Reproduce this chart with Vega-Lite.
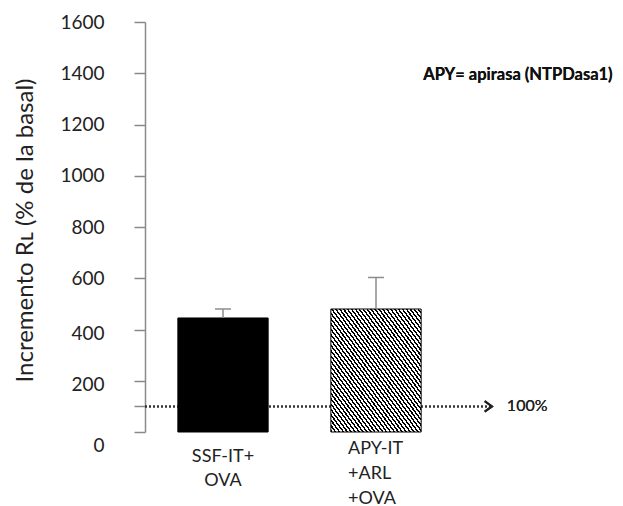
{
  "$schema": "https://vega.github.io/schema/vega-lite/v6.json",
  "autosize": "none",
  "width": 478,
  "height": 410,
  "padding": {"left": 145, "top": 22, "right": 0, "bottom": 74},
  "background": "white",
  "config": {
    "font": "Lato",
    "view": {"stroke": null},
    "axisY": {
      "grid": false,
      "domainColor": "#8a8a8a",
      "domainWidth": 1.5,
      "tickColor": "#8a8a8a",
      "tickWidth": 1.5,
      "tickSize": 11,
      "labelPadding": 30,
      "labelFont": "Lato",
      "labelFontSize": 19,
      "labelColor": "#222222",
      "titleFont": "Lato",
      "titleFontSize": 24,
      "titleFontWeight": "normal",
      "titleColor": "#222222"
    }
  },
  "data": {
    "values": [
      {"grupo": "SSF-IT+ OVA", "media": 445, "sup": 480},
      {"grupo": "APY-IT +ARL +OVA", "media": 480, "sup": 603}
    ]
  },
  "resolve": {"scale": {"x": "independent"}},
  "layer": [
    {
      "encoding": {
        "x": {"datum": 0, "type": "quantitative", "scale": {"domain": [0, 1], "nice": false, "zero": false}, "axis": null}
      },
      "layer": [
        {
          "mark": {"type": "rule", "strokeDash": [2, 2], "strokeWidth": 2, "color": "#333333"},
          "encoding": {
            "x": {"datum": 0, "type": "quantitative"},
            "x2": {"datum": 0.726},
            "y": {"datum": 100, "type": "quantitative", "scale": {"domain": [0, 1600], "nice": false}}
          }
        },
        {
          "mark": {"type": "point", "shape": "M-1.4,-1L0,0L-1.4,1", "filled": false, "stroke": "#222222", "strokeWidth": 2, "size": 110, "opacity": 1},
          "encoding": {
            "x": {"datum": 0.726, "type": "quantitative"},
            "y": {"datum": 100, "type": "quantitative"}
          }
        },
        {
          "mark": {"type": "text", "text": "100%", "align": "left", "baseline": "middle", "fontSize": 16, "fontWeight": "normal", "color": "#222222"},
          "encoding": {
            "x": {"datum": 0.757, "type": "quantitative"},
            "y": {"datum": 100, "type": "quantitative"}
          }
        },
        {
          "mark": {"type": "text", "text": "APY= apirasa (NTPDasa1)", "align": "left", "baseline": "middle", "fontSize": 16.5, "fontWeight": "bold", "color": "#111111"},
          "encoding": {
            "x": {"datum": 0.582, "type": "quantitative"},
            "y": {"datum": 1392, "type": "quantitative"}
          }
        }
      ]
    },
    {
      "encoding": {
        "x": {
          "field": "grupo",
          "type": "nominal",
          "sort": ["SSF-IT+ OVA", "APY-IT +ARL +OVA"],
          "scale": {"type": "band", "domain": ["SSF-IT+ OVA", "APY-IT +ARL +OVA"], "paddingInner": 0.41, "paddingOuter": 0.767, "align": 0.14},
          "axis": null
        }
      },
      "layer": [
        {
          "transform": [{"filter": "datum.grupo == 'SSF-IT+ OVA'"}],
          "mark": {"type": "bar", "fill": "#000000", "stroke": "#000000", "strokeWidth": 1},
          "encoding": {
            "y": {
              "field": "media",
              "type": "quantitative",
              "title": "Incremento Rʟ (% de la basal)",
              "scale": {"domain": [0, 1600], "nice": false},
              "axis": {
                "values": [0, 100, 200, 400, 600, 800, 1000, 1200, 1400, 1600],
                "format": "d",
                "labelExpr": "datum.value == 100 ? '' : datum.label",
                "labelOffset": {"condition": [{"test": "datum.value == 0", "value": 13}, {"test": "datum.value <= 400", "value": 4}], "value": 0},
                "titleX": -108,
                "titleY": 208
              }
            }
          }
        },
        {
          "transform": [{"filter": "datum.grupo == 'APY-IT +ARL +OVA'"}],
          "mark": {
            "type": "bar",
            "stroke": "#000000",
            "strokeWidth": 1,
            "fill": {
              "gradient": "linear", "x1": 0, "y1": 1, "x2": 1, "y2": 0,
              "stops": [
                {"offset":0,"color":"#000"},{"offset":0.00978,"color":"#000"},{"offset":0.00978,"color":"#fff"},{"offset":0.02174,"color":"#fff"},
                {"offset":0.02174,"color":"#000"},{"offset":0.03152,"color":"#000"},{"offset":0.03152,"color":"#fff"},{"offset":0.04348,"color":"#fff"},
                {"offset":0.04348,"color":"#000"},{"offset":0.05326,"color":"#000"},{"offset":0.05326,"color":"#fff"},{"offset":0.06522,"color":"#fff"},
                {"offset":0.06522,"color":"#000"},{"offset":0.075,"color":"#000"},{"offset":0.075,"color":"#fff"},{"offset":0.08696,"color":"#fff"},
                {"offset":0.08696,"color":"#000"},{"offset":0.09674,"color":"#000"},{"offset":0.09674,"color":"#fff"},{"offset":0.1087,"color":"#fff"},
                {"offset":0.1087,"color":"#000"},{"offset":0.11848,"color":"#000"},{"offset":0.11848,"color":"#fff"},{"offset":0.13043,"color":"#fff"},
                {"offset":0.13043,"color":"#000"},{"offset":0.14021,"color":"#000"},{"offset":0.14021,"color":"#fff"},{"offset":0.15217,"color":"#fff"},
                {"offset":0.15217,"color":"#000"},{"offset":0.16195,"color":"#000"},{"offset":0.16195,"color":"#fff"},{"offset":0.17391,"color":"#fff"},
                {"offset":0.17391,"color":"#000"},{"offset":0.18369,"color":"#000"},{"offset":0.18369,"color":"#fff"},{"offset":0.19565,"color":"#fff"},
                {"offset":0.19565,"color":"#000"},{"offset":0.20543,"color":"#000"},{"offset":0.20543,"color":"#fff"},{"offset":0.21739,"color":"#fff"},
                {"offset":0.21739,"color":"#000"},{"offset":0.22717,"color":"#000"},{"offset":0.22717,"color":"#fff"},{"offset":0.23913,"color":"#fff"},
                {"offset":0.23913,"color":"#000"},{"offset":0.24891,"color":"#000"},{"offset":0.24891,"color":"#fff"},{"offset":0.26087,"color":"#fff"},
                {"offset":0.26087,"color":"#000"},{"offset":0.27065,"color":"#000"},{"offset":0.27065,"color":"#fff"},{"offset":0.28261,"color":"#fff"},
                {"offset":0.28261,"color":"#000"},{"offset":0.29239,"color":"#000"},{"offset":0.29239,"color":"#fff"},{"offset":0.30435,"color":"#fff"},
                {"offset":0.30435,"color":"#000"},{"offset":0.31413,"color":"#000"},{"offset":0.31413,"color":"#fff"},{"offset":0.32609,"color":"#fff"},
                {"offset":0.32609,"color":"#000"},{"offset":0.33587,"color":"#000"},{"offset":0.33587,"color":"#fff"},{"offset":0.34783,"color":"#fff"},
                {"offset":0.34783,"color":"#000"},{"offset":0.35761,"color":"#000"},{"offset":0.35761,"color":"#fff"},{"offset":0.36957,"color":"#fff"},
                {"offset":0.36957,"color":"#000"},{"offset":0.37935,"color":"#000"},{"offset":0.37935,"color":"#fff"},{"offset":0.3913,"color":"#fff"},
                {"offset":0.3913,"color":"#000"},{"offset":0.40108,"color":"#000"},{"offset":0.40108,"color":"#fff"},{"offset":0.41304,"color":"#fff"},
                {"offset":0.41304,"color":"#000"},{"offset":0.42282,"color":"#000"},{"offset":0.42282,"color":"#fff"},{"offset":0.43478,"color":"#fff"},
                {"offset":0.43478,"color":"#000"},{"offset":0.44456,"color":"#000"},{"offset":0.44456,"color":"#fff"},{"offset":0.45652,"color":"#fff"},
                {"offset":0.45652,"color":"#000"},{"offset":0.4663,"color":"#000"},{"offset":0.4663,"color":"#fff"},{"offset":0.47826,"color":"#fff"},
                {"offset":0.47826,"color":"#000"},{"offset":0.48804,"color":"#000"},{"offset":0.48804,"color":"#fff"},{"offset":0.5,"color":"#fff"},
                {"offset":0.5,"color":"#000"},{"offset":0.50978,"color":"#000"},{"offset":0.50978,"color":"#fff"},{"offset":0.52174,"color":"#fff"},
                {"offset":0.52174,"color":"#000"},{"offset":0.53152,"color":"#000"},{"offset":0.53152,"color":"#fff"},{"offset":0.54348,"color":"#fff"},
                {"offset":0.54348,"color":"#000"},{"offset":0.55326,"color":"#000"},{"offset":0.55326,"color":"#fff"},{"offset":0.56522,"color":"#fff"},
                {"offset":0.56522,"color":"#000"},{"offset":0.575,"color":"#000"},{"offset":0.575,"color":"#fff"},{"offset":0.58696,"color":"#fff"},
                {"offset":0.58696,"color":"#000"},{"offset":0.59674,"color":"#000"},{"offset":0.59674,"color":"#fff"},{"offset":0.6087,"color":"#fff"},
                {"offset":0.6087,"color":"#000"},{"offset":0.61848,"color":"#000"},{"offset":0.61848,"color":"#fff"},{"offset":0.63043,"color":"#fff"},
                {"offset":0.63043,"color":"#000"},{"offset":0.64021,"color":"#000"},{"offset":0.64021,"color":"#fff"},{"offset":0.65217,"color":"#fff"},
                {"offset":0.65217,"color":"#000"},{"offset":0.66195,"color":"#000"},{"offset":0.66195,"color":"#fff"},{"offset":0.67391,"color":"#fff"},
                {"offset":0.67391,"color":"#000"},{"offset":0.68369,"color":"#000"},{"offset":0.68369,"color":"#fff"},{"offset":0.69565,"color":"#fff"},
                {"offset":0.69565,"color":"#000"},{"offset":0.70543,"color":"#000"},{"offset":0.70543,"color":"#fff"},{"offset":0.71739,"color":"#fff"},
                {"offset":0.71739,"color":"#000"},{"offset":0.72717,"color":"#000"},{"offset":0.72717,"color":"#fff"},{"offset":0.73913,"color":"#fff"},
                {"offset":0.73913,"color":"#000"},{"offset":0.74891,"color":"#000"},{"offset":0.74891,"color":"#fff"},{"offset":0.76087,"color":"#fff"},
                {"offset":0.76087,"color":"#000"},{"offset":0.77065,"color":"#000"},{"offset":0.77065,"color":"#fff"},{"offset":0.78261,"color":"#fff"},
                {"offset":0.78261,"color":"#000"},{"offset":0.79239,"color":"#000"},{"offset":0.79239,"color":"#fff"},{"offset":0.80435,"color":"#fff"},
                {"offset":0.80435,"color":"#000"},{"offset":0.81413,"color":"#000"},{"offset":0.81413,"color":"#fff"},{"offset":0.82609,"color":"#fff"},
                {"offset":0.82609,"color":"#000"},{"offset":0.83587,"color":"#000"},{"offset":0.83587,"color":"#fff"},{"offset":0.84783,"color":"#fff"},
                {"offset":0.84783,"color":"#000"},{"offset":0.85761,"color":"#000"},{"offset":0.85761,"color":"#fff"},{"offset":0.86957,"color":"#fff"},
                {"offset":0.86957,"color":"#000"},{"offset":0.87935,"color":"#000"},{"offset":0.87935,"color":"#fff"},{"offset":0.8913,"color":"#fff"},
                {"offset":0.8913,"color":"#000"},{"offset":0.90108,"color":"#000"},{"offset":0.90108,"color":"#fff"},{"offset":0.91304,"color":"#fff"},
                {"offset":0.91304,"color":"#000"},{"offset":0.92282,"color":"#000"},{"offset":0.92282,"color":"#fff"},{"offset":0.93478,"color":"#fff"},
                {"offset":0.93478,"color":"#000"},{"offset":0.94456,"color":"#000"},{"offset":0.94456,"color":"#fff"},{"offset":0.95652,"color":"#fff"},
                {"offset":0.95652,"color":"#000"},{"offset":0.9663,"color":"#000"},{"offset":0.9663,"color":"#fff"},{"offset":0.97826,"color":"#fff"},
                {"offset":0.97826,"color":"#000"},{"offset":0.98804,"color":"#000"},{"offset":0.98804,"color":"#fff"},{"offset":1,"color":"#fff"}
              ]
            }
          },
          "encoding": {
            "y": {"field": "media", "type": "quantitative"}
          }
        },
        {
          "mark": {"type": "rule", "color": "#8c8c8c", "strokeWidth": 1.5},
          "encoding": {
            "y": {"field": "media", "type": "quantitative"},
            "y2": {"field": "sup"}
          }
        },
        {
          "mark": {"type": "tick", "orient": "horizontal", "size": 16, "thickness": 1.5, "color": "#8c8c8c", "opacity": 1},
          "encoding": {
            "y": {"field": "sup", "type": "quantitative"}
          }
        },
        {
          "transform": [{"filter": "datum.grupo == 'SSF-IT+ OVA'"}],
          "mark": {"type": "text", "lineBreak": " ", "align": "center", "baseline": "top", "dy": 16, "lineHeight": 24, "fontSize": 18, "color": "#222222"},
          "encoding": {
            "y": {"datum": 0, "type": "quantitative"},
            "text": {"field": "grupo"}
          }
        },
        {
          "transform": [{"filter": "datum.grupo == 'APY-IT +ARL +OVA'"}],
          "mark": {"type": "text", "lineBreak": " ", "align": "left", "baseline": "top", "dy": 8, "lineHeight": 25, "fontSize": 18, "color": "#222222"},
          "encoding": {
            "x": {"field": "grupo", "type": "nominal", "bandPosition": 0.19},
            "y": {"datum": 0, "type": "quantitative"},
            "text": {"field": "grupo"}
          }
        }
      ]
    }
  ]
}
